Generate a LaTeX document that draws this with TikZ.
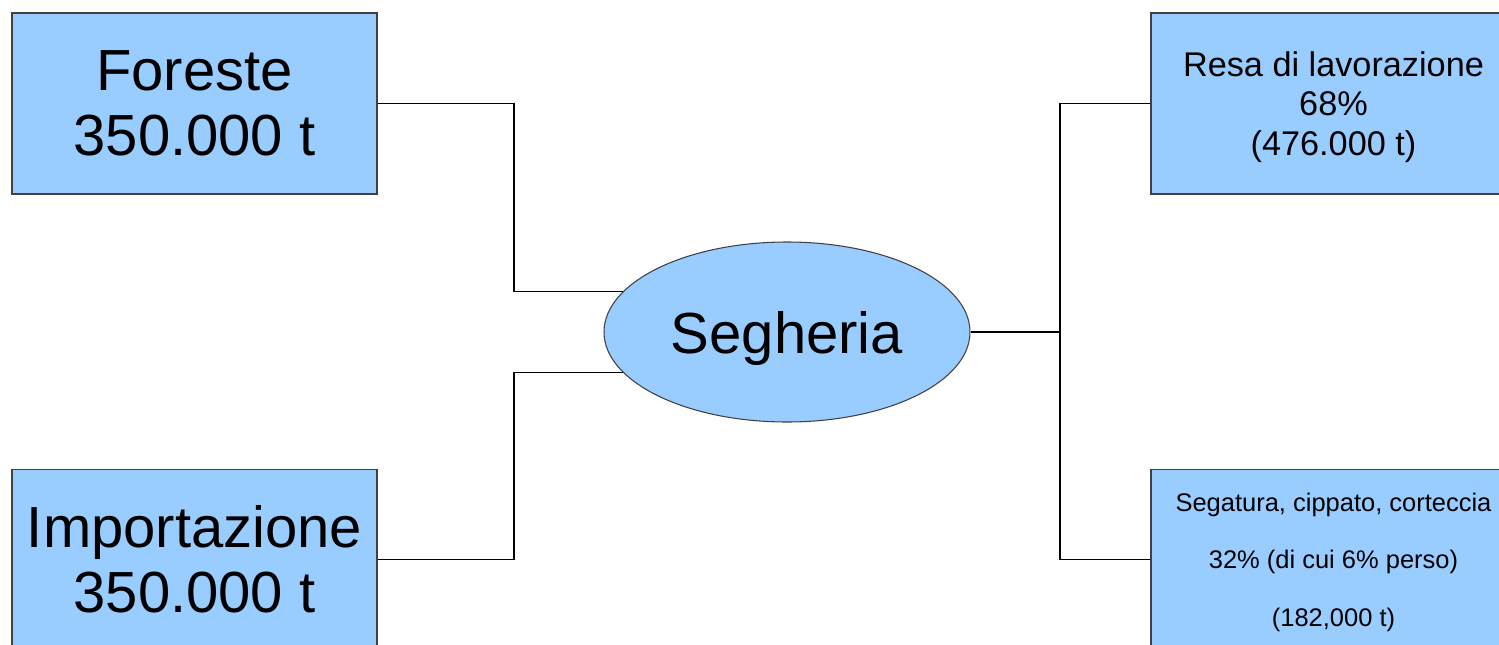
\documentclass[tikz,border=0pt]{standalone}
\usepackage{fontspec}
\setmainfont{Liberation Sans}
\usetikzlibrary{positioning, shapes.geometric, calc}
\definecolor{boxblue}{HTML}{99CCFF}

\begin{document}
\begin{tikzpicture}[node distance=5.48cm, every node/.style={align=center},
  block/.style={draw=black!75, fill=boxblue, rectangle, line width=0.6pt,
    minimum width=7.3cm, minimum height=3.62cm, inner sep=0pt},
  hub/.style={draw=black!75, fill=boxblue, ellipse, line width=0.6pt,
    minimum width=7.32cm, minimum height=3.6cm, inner sep=0pt, text depth=0pt},
  link/.style={draw=black, line width=0.6pt},
  bigtext/.style={font=\fontsize{33}{37}\selectfont},
  midtext/.style={font=\fontsize{19.5}{22.4}\selectfont, text depth=0pt},
  smalltext/.style={font=\fontsize{14.5}{32.6}\selectfont, text depth=0pt}]
\useasboundingbox (0,0) rectangle (29.98,-12.9);
\clip (0,0) rectangle (29.98,-12.9);
\node (Foreste) [block, bigtext] at (3.89,-2.07) {Foreste\\350.000 t};
\node (Import) [block, bigtext, below=of Foreste] {Importazione\\350.000 t};
\node (Segheria) [hub, bigtext] at (15.74,-6.64) {Segheria};
\node (Resa) [block, midtext] at (26.67,-2.07) {Resa di lavorazione\\68\%\\(476.000 t)};
\node (Scarti) [block, smalltext, below=of Resa] {Segatura, cippato, corteccia\\32\% (di cui 6\% perso)\\(182,000 t)};
\coordinate (jl) at (10.28,-6.64);
\coordinate (jr) at (21.2,-6.64);
\draw[link] (Foreste.east) -- (Foreste.east -| jl) |- (Segheria.166);
\draw[link] (Import.east) -- (Import.east -| jl) |- (Segheria.194);
\draw[link] (Segheria.east) -- (jr);
\draw[link] (Resa.west) -| (jr) |- (Scarti.west);
\end{tikzpicture}
\end{document}
